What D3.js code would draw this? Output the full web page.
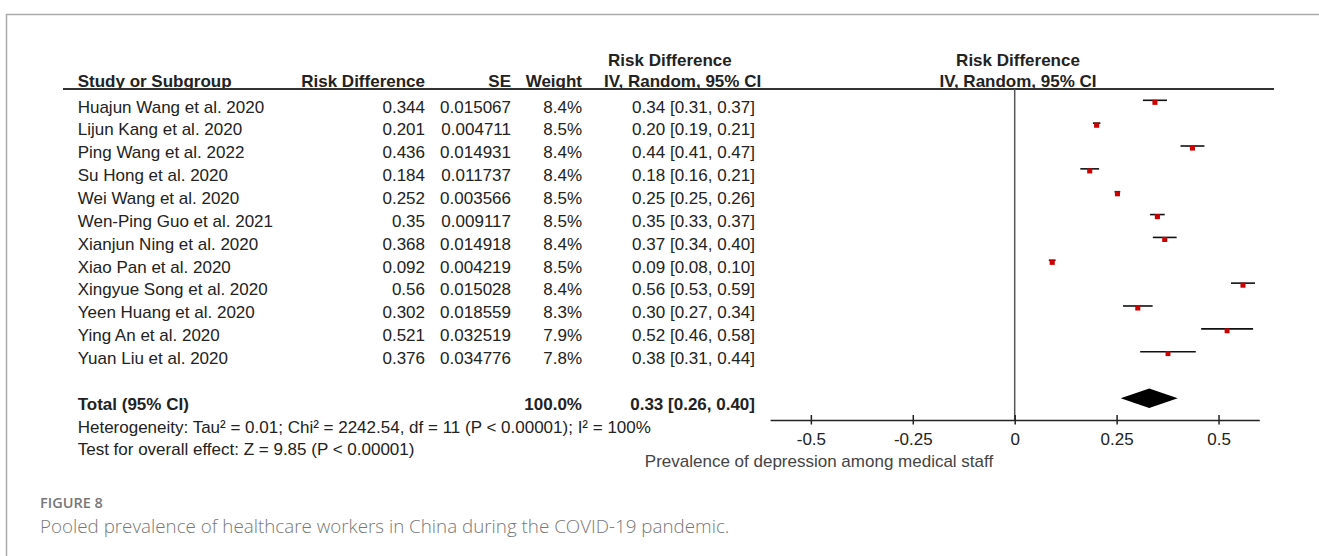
<!DOCTYPE html>
<html>
<head>
<meta charset="utf-8">
<script src="https://cdn.jsdelivr.net/npm/d3@7"></script>
<style>
  html, body { margin: 0; padding: 0; background: #fff; }
  svg { display: block; }
  text { font-family: "Liberation Sans", Arial, sans-serif; }
</style>
</head>
<body>
<script>
// ---------------- DATA ----------------
const studies = [
  "Huajun Wang et al. 2020",
  "Lijun Kang et al. 2020",
  "Ping Wang et al. 2022",
  "Su Hong et al. 2020",
  "Wei Wang et al. 2020",
  "Wen-Ping Guo et al. 2021",
  "Xianjun Ning et al. 2020",
  "Xiao Pan et al. 2020",
  "Xingyue Song et al. 2020",
  "Yeen Huang et al. 2020",
  "Ying An et al. 2020",
  "Yuan Liu et al. 2020"
];
const riskDiff = [0.344, 0.201, 0.436, 0.184, 0.252, 0.35, 0.368, 0.092, 0.56, 0.302, 0.521, 0.376];
const seValues = [0.015067, 0.004711, 0.014931, 0.011737, 0.003566, 0.009117, 0.014918, 0.004219, 0.015028, 0.018559, 0.032519, 0.034776];
const weights = [8.4, 8.5, 8.4, 8.4, 8.5, 8.5, 8.4, 8.5, 8.4, 8.3, 7.9, 7.8];
const ciLow  = [0.3145, 0.1918, 0.4067, 0.1610, 0.2450, 0.3321, 0.3388, 0.0837, 0.5305, 0.2656, 0.4573, 0.3078];
const ciHigh = [0.3735, 0.2102, 0.4653, 0.2070, 0.2590, 0.3679, 0.3972, 0.1003, 0.5895, 0.3384, 0.5847, 0.4442];

const total = { label: "Total (95% CI)", est: 0.33, low: 0.26, high: 0.40, weight: 100.0 };
const heterogeneityText = "Heterogeneity: Tau\u00b2 = 0.01; Chi\u00b2 = 2242.54, df = 11 (P < 0.00001); I\u00b2 = 100%";
const overallText = "Test for overall effect: Z = 9.85 (P < 0.00001)";

const tickValues = [-0.5, -0.25, 0, 0.25, 0.5];
const xDomain = [-0.6, 0.6];
const axisLabel = "Prevalence of depression among medical staff";

const headers = {
  study: "Study or Subgroup",
  rd: "Risk Difference",
  se: "SE",
  weight: "Weight",
  ciTop: "Risk Difference",
  ciBottom: "IV, Random, 95% CI"
};
const figureLabel = "FIGURE 8";
const caption = "Pooled prevalence of healthcare workers in China during the COVID-19 pandemic.";

// ---------------- LAYOUT ----------------
const W = 1319, H = 556;
const FS = 17;
const textColor = "#222";

const svg = d3.select("body").append("svg")
  .attr("width", W).attr("height", H)
  .attr("viewBox", `0 0 ${W} ${H}`);

svg.append("rect").attr("width", W).attr("height", H).attr("fill", "#fff");

// frame (open at right / bottom)
svg.append("line").attr("x1", 6).attr("x2", W).attr("y1", 14.5).attr("y2", 14.5)
  .attr("stroke", "#aaa").attr("stroke-width", 1.5);
svg.append("line").attr("x1", 6.5).attr("x2", 6.5).attr("y1", 14).attr("y2", H)
  .attr("stroke", "#aaa").attr("stroke-width", 1.5);

const x = d3.scaleLinear().domain(xDomain).range([770.1, 1259.3]);
const y = d3.scaleLinear().domain([0, 13]).range([100.3, 397.4]); // row index -> CI line y
const baseOff = 12.3;

const col = { name: 77.7, rd: 425, se: 511, weight: 582, ci: 755 };

function f2(v) { return (Math.round(v * 100 + 1e-7) / 100).toFixed(2); }

// headers
const hdrBase = 86.5;
const hg = svg.append("g").attr("font-size", FS).attr("font-weight", "bold").attr("fill", textColor);
hg.append("text").attr("x", col.name).attr("y", hdrBase).text(headers.study);
hg.append("text").attr("x", col.rd).attr("y", hdrBase).attr("text-anchor", "end").text(headers.rd);
hg.append("text").attr("x", col.se).attr("y", hdrBase).attr("text-anchor", "end").text(headers.se);
hg.append("text").attr("x", col.weight).attr("y", hdrBase).attr("text-anchor", "end").text(headers.weight);
hg.append("text").attr("x", 608).attr("y", 66).text(headers.ciTop);
hg.append("text").attr("x", 604).attr("y", hdrBase).text(headers.ciBottom);
hg.append("text").attr("x", 1018).attr("y", 66).attr("text-anchor", "middle").text(headers.ciTop);
hg.append("text").attr("x", 1018).attr("y", hdrBase).attr("text-anchor", "middle").text(headers.ciBottom);

// header rule
svg.append("line").attr("x1", 63).attr("x2", 1274).attr("y1", 89).attr("y2", 89)
  .attr("stroke", "#333").attr("stroke-width", 2);

// zero line
const axisY = 420;
svg.append("line").attr("x1", x(0)).attr("x2", x(0)).attr("y1", 89).attr("y2", axisY)
  .attr("stroke", "#555").attr("stroke-width", 1.5);

// rows
const rows = studies.map((s, i) => ({
  name: s, rd: riskDiff[i], se: seValues[i], w: weights[i], lo: ciLow[i], hi: ciHigh[i], i
}));

const rg = svg.append("g").attr("font-size", FS).attr("fill", textColor);
const rowG = rg.selectAll("g.row").data(rows).join("g").attr("class", "row");
rowG.append("text").attr("x", col.name).attr("y", d => y(d.i) + baseOff).text(d => d.name);
rowG.append("text").attr("x", col.rd).attr("y", d => y(d.i) + baseOff).attr("text-anchor", "end").text(d => String(d.rd));
rowG.append("text").attr("x", col.se).attr("y", d => y(d.i) + baseOff).attr("text-anchor", "end").text(d => String(d.se));
rowG.append("text").attr("x", col.weight).attr("y", d => y(d.i) + baseOff).attr("text-anchor", "end").text(d => d.w.toFixed(1) + "%");
rowG.append("text").attr("x", col.ci).attr("y", d => y(d.i) + baseOff).attr("text-anchor", "end")
  .text(d => `${f2(d.rd)} [${f2(d.lo)}, ${f2(d.hi)}]`);

// CI lines and squares
const pg = svg.append("g");
pg.selectAll("line.ci").data(rows).join("line").attr("class", "ci")
  .attr("x1", d => x(d.lo)).attr("x2", d => x(d.hi))
  .attr("y1", d => y(d.i)).attr("y2", d => y(d.i))
  .attr("stroke", "#111").attr("stroke-width", 1.6);
pg.selectAll("rect.sq").data(rows).join("rect").attr("class", "sq")
  .attr("x", d => x(d.rd) - 1.75 * Math.sqrt(d.w) / 2)
  .attr("y", d => y(d.i) - 0.5)
  .attr("width", d => 1.75 * Math.sqrt(d.w))
  .attr("height", d => 1.75 * Math.sqrt(d.w))
  .attr("fill", "#cc0000");

// total row
const tY = y(13);
const tg = svg.append("g").attr("font-size", FS).attr("font-weight", "bold").attr("fill", textColor);
tg.append("text").attr("x", col.name).attr("y", tY + baseOff).text(total.label);
tg.append("text").attr("x", col.weight).attr("y", tY + baseOff).attr("text-anchor", "end").text(total.weight.toFixed(1) + "%");
tg.append("text").attr("x", col.ci).attr("y", tY + baseOff).attr("text-anchor", "end")
  .text(`${f2(total.est)} [${f2(total.low)}, ${f2(total.high)}]`);

const dCy = 398.2, dH = 9.8;
svg.append("path")
  .attr("d", `M${x(total.low)},${dCy} L${x(total.est)},${dCy - dH} L${x(total.high)},${dCy} L${x(total.est)},${dCy + dH} Z`)
  .attr("fill", "#000");

// footer stats
const fg = svg.append("g").attr("font-size", FS).attr("fill", textColor);
fg.append("text").attr("x", col.name).attr("y", y(14) + baseOff).text(heterogeneityText);
fg.append("text").attr("x", col.name).attr("y", y(15) + baseOff).text(overallText);

// axis
const axis = d3.axisBottom(x).tickValues(tickValues).tickSize(4.5).tickSizeOuter(0).tickFormat(d => String(d));
const ag = svg.append("g").attr("transform", `translate(0,${axisY})`).call(axis);
ag.select(".domain").attr("stroke", "#222").attr("stroke-width", 1.5);
ag.selectAll(".tick line").attr("y1", -5).attr("y2", 4.5).attr("stroke", "#222").attr("stroke-width", 1.5);
ag.selectAll(".tick text").attr("y", 25).attr("dy", 0)
  .attr("font-size", FS).attr("fill", textColor)
  .attr("font-family", "\"Liberation Sans\", Arial, sans-serif");

svg.append("text").attr("x", 819).attr("y", 467).attr("text-anchor", "middle")
  .attr("font-size", FS).attr("fill", "#444").text(axisLabel);

// caption
svg.append("text").attr("x", 40).attr("y", 508)
  .style("font-family", "\"Open Sans\", \"Noto Sans\", sans-serif")
  .attr("font-size", 14.5).attr("font-weight", 600).attr("fill", "#777")
  .text(figureLabel);
svg.append("text").attr("x", 40).attr("y", 533)
  .style("font-family", "\"Open Sans\", \"Noto Sans\", sans-serif")
  .attr("font-size", 18.8).attr("font-weight", 300).attr("fill", "#777")
  .text(caption);
</script>
</body>
</html>
